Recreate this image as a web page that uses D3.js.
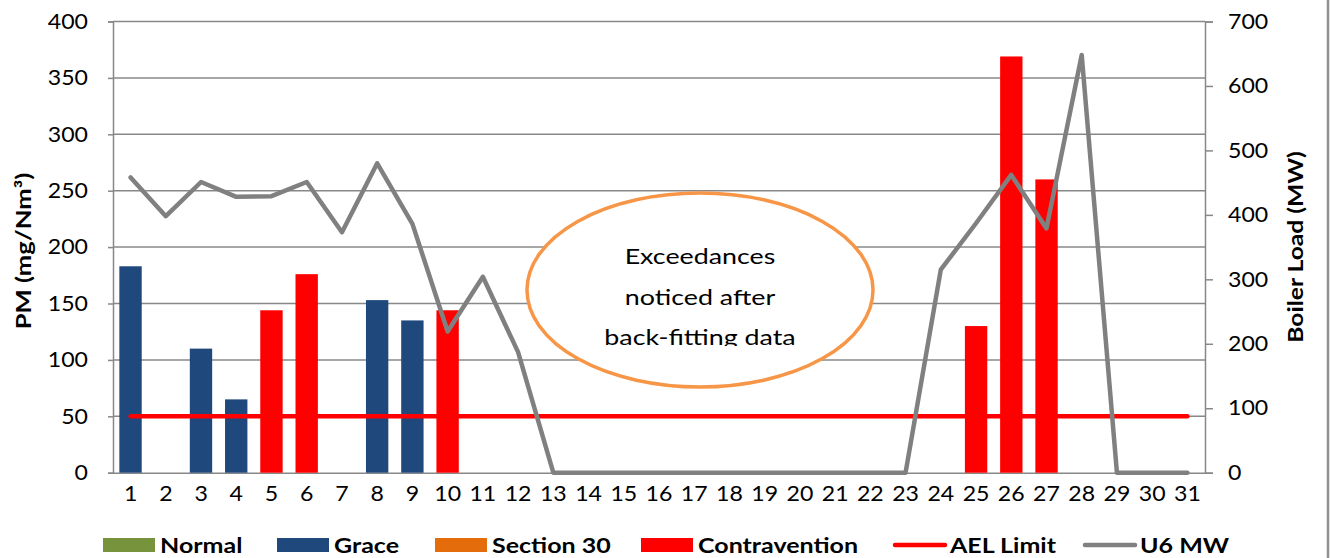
<!DOCTYPE html>
<html>
<head>
<meta charset="utf-8">
<script src="https://cdn.jsdelivr.net/npm/d3@7"></script>
<style>
  html, body { margin: 0; padding: 0; background: #fff; }
  svg { display: block; }
</style>
</head>
<body>
<svg id="chart" width="1331" height="558"></svg>
<script>
// ---------- data ----------
const days = d3.range(1, 32).map(String);
// PM (mg/Nm3) per day and its status category
const pmValues = [183, 0, 110, 65, 144, 176, 0, 153, 135, 144,
                  0, 0, 0, 0, 0, 0, 0, 0, 0, 0,
                  0, 0, 0, 0, 130, 369, 260, 0, 0, 0, 0];
const pmStatus = ["Grace", null, "Grace", "Grace", "Contravention", "Contravention", null, "Grace", "Grace", "Contravention",
                  null, null, null, null, null, null, null, null, null, null,
                  null, null, null, null, "Contravention", "Contravention", "Contravention", null, null, null, null];
// Boiler load (MW)
const u6MW = [458, 398, 451, 428, 429, 451, 373, 480, 386, 219,
              304, 187, 0, 0, 0, 0, 0, 0, 0, 0,
              0, 0, 0, 315, 387, 462, 379, 648, 0, 0, 0];
const aelLimit = 50;
const leftTicks = [0, 50, 100, 150, 200, 250, 300, 350, 400];
const rightTicks = [0, 100, 200, 300, 400, 500, 600, 700];
const legendItems = [
  {name: "Normal", type: "rect", color: "#77933c"},
  {name: "Grace", type: "rect", color: "#1f497d"},
  {name: "Section 30", type: "rect", color: "#e46c0a"},
  {name: "Contravention", type: "rect", color: "#ff0000"},
  {name: "AEL Limit", type: "line", color: "#ff0000"},
  {name: "U6 MW", type: "line", color: "#808080"}
];
const noteLines = ["Exceedances", "noticed after", "back-fitting data"];

// ---------- layout ----------
const svg = d3.select("#chart");
const W = 1331, H = 558;
const plot = {left: 113, right: 1205, top: 21.5, bottom: 472.7};
const font = "Lato, 'Liberation Sans', sans-serif";
const gridColor = "#888888";
const tickStretch = 1.1, textStretch = 1.22;

const x = d3.scaleBand().domain(days).range([plot.left, plot.right]).paddingInner(0.365).paddingOuter(0.18);
const xc = d3.scaleBand().domain(days).range([plot.left, plot.right]);
const yL = d3.scaleLinear().domain([0, 400]).range([plot.bottom, plot.top]);
const yR = d3.scaleLinear().domain([0, 700]).range([plot.bottom, plot.top]);
const cx = d => xc(d) + xc.bandwidth() / 2;
const colorOf = s => (legendItems.find(l => l.name === s) || {}).color;

// right border of chart area
svg.append("line").attr("x1", 1328).attr("x2", 1328).attr("y1", 0).attr("y2", H)
  .attr("stroke", "#909090").attr("stroke-width", 2.5);

// gridlines
svg.append("g").selectAll("line").data(leftTicks.filter(t => t > 0)).join("line")
  .attr("x1", plot.left).attr("x2", plot.right)
  .attr("y1", d => yL(d)).attr("y2", d => yL(d))
  .attr("stroke", gridColor).attr("stroke-width", 1.5);

// left axis
const gL = svg.append("g").attr("transform", `translate(${plot.left},0)`)
  .call(d3.axisLeft(yL).tickValues(leftTicks).tickSize(5));
gL.select(".domain").attr("stroke", gridColor).attr("stroke-width", 1.5);
gL.selectAll(".tick line").attr("stroke", gridColor).attr("stroke-width", 1.5);
gL.selectAll("text").attr("font-family", font).attr("font-size", 21).attr("fill", "#000")
  .attr("x", -25 / tickStretch).attr("transform", `scale(${tickStretch},1)`);

// right axis
const gR = svg.append("g").attr("transform", `translate(${plot.right},0)`)
  .call(d3.axisRight(yR).tickValues(rightTicks).tickSize(8));
gR.select(".domain").attr("stroke", gridColor).attr("stroke-width", 1.5);
gR.selectAll(".tick line").attr("stroke", gridColor).attr("stroke-width", 1.5);
gR.selectAll("text").attr("font-family", font).attr("font-size", 21).attr("fill", "#000")
  .attr("x", 23 / tickStretch).attr("transform", `scale(${tickStretch},1)`);

// bottom axis
const gB = svg.append("g").attr("transform", `translate(0,${plot.bottom})`)
  .call(d3.axisBottom(xc).tickSize(0).tickPadding(13));
gB.select(".domain").attr("stroke", gridColor).attr("stroke-width", 1.5);
gB.selectAll("text").attr("font-family", font).attr("font-size", 21).attr("fill", "#000")
  .attr("transform", `scale(${tickStretch},1)`);

// bars
svg.append("g").selectAll("rect").data(days.map((d, i) => ({d, v: pmValues[i], s: pmStatus[i]})).filter(e => e.v > 0))
  .join("rect")
  .attr("x", e => x(e.d)).attr("width", x.bandwidth())
  .attr("y", e => yL(e.v)).attr("height", e => yL(0) - yL(e.v))
  .attr("fill", e => colorOf(e.s));

// AEL limit line
svg.append("path")
  .datum(days)
  .attr("d", d3.line().x(d => cx(d)).y(() => yL(aelLimit)))
  .attr("fill", "none").attr("stroke", "#ff0000").attr("stroke-width", 4.5).attr("stroke-linecap", "round");

// U6 MW line
svg.append("path")
  .datum(days.map((d, i) => ({d, v: u6MW[i]})))
  .attr("d", d3.line().x(e => cx(e.d)).y(e => yR(e.v)))
  .attr("fill", "none").attr("stroke", "#808080").attr("stroke-width", 4.5)
  .attr("stroke-linejoin", "round").attr("stroke-linecap", "round");

// annotation ellipse
const ell = {cx: 700, cy: 290, rx: 173, ry: 97};
svg.append("ellipse").attr("cx", ell.cx).attr("cy", ell.cy).attr("rx", ell.rx).attr("ry", ell.ry)
  .attr("fill", "#fff").attr("stroke", "#f79646").attr("stroke-width", 3.5);
svg.append("clipPath").attr("id", "noteClip").append("rect")
  .attr("x", ell.cx - ell.rx).attr("y", ell.cy - ell.ry).attr("width", ell.rx * 2).attr("height", 346 - (ell.cy - ell.ry));
svg.append("g").attr("clip-path", "url(#noteClip)").selectAll("text").data(noteLines).join("text")
  .attr("transform", (d, i) => `translate(${ell.cx},${264 + i * 40.5}) scale(${textStretch},1)`)
  .attr("text-anchor", "middle").attr("font-family", font).attr("font-size", 22).attr("fill", "#000")
  .text(d => d);

// axis titles
svg.append("text").attr("transform", `translate(31,251) rotate(-90) scale(1.28,1)`)
  .attr("text-anchor", "middle").attr("font-family", font).attr("font-weight", "bold").attr("font-size", 20)
  .text("PM (mg/Nm³)");
svg.append("text").attr("transform", `translate(1303,247) rotate(-90) scale(1.23,1)`)
  .attr("text-anchor", "middle").attr("font-family", font).attr("font-weight", "bold").attr("font-size", 20)
  .text("Boiler Load (MW)");

// legend
const legendX = [103, 277, 435, 641, 893, 1083];
const lg = svg.append("g");
legendItems.forEach((it, i) => {
  const g = lg.append("g").attr("transform", `translate(${legendX[i]},545)`);
  if (it.type === "rect") {
    g.append("rect").attr("x", 0).attr("y", -7).attr("width", 52).attr("height", 14).attr("fill", it.color);
  } else {
    g.append("line").attr("x1", 2).attr("x2", 52).attr("y1", 0).attr("y2", 0)
      .attr("stroke", it.color).attr("stroke-width", 4.5).attr("stroke-linecap", "round");
  }
  g.append("text").attr("transform", `translate(57,7.5) scale(${textStretch},1)`)
    .attr("font-family", font).attr("font-weight", "bold")
    .attr("font-size", 20.5).attr("fill", "#000").text(it.name);
});
</script>
</body>
</html>
